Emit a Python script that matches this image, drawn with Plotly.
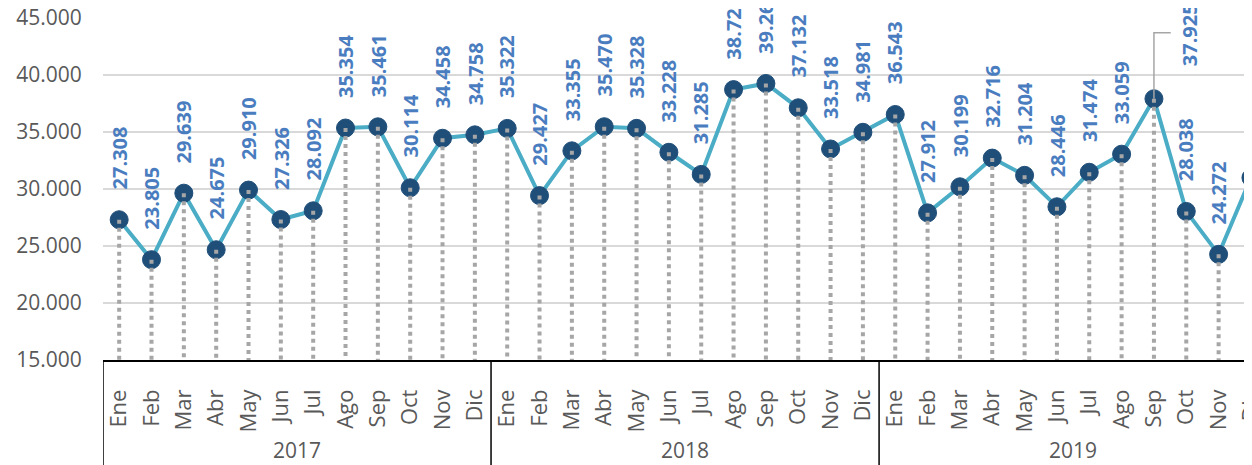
import plotly.graph_objects as go

# ---- data ----
years = ["2017", "2018", "2019"]
months = ["Ene", "Feb", "Mar", "Abr", "May", "Jun", "Jul", "Ago", "Sep", "Oct", "Nov", "Dic"]
values_2017 = [27308, 23805, 29639, 24675, 29910, 27326, 28092, 35354, 35461, 30114, 34458, 34758]
values_2018 = [35322, 29427, 33355, 35470, 35328, 33228, 31285, 38729, 39263, 37132, 33518, 34981]
values_2019 = [36543, 27912, 30199, 32716, 31204, 28446, 31474, 33059, 37925, 28038, 24272, 31000]
y_tick_values = [15000, 20000, 25000, 30000, 35000, 40000, 45000]

values = values_2017 + values_2018 + values_2019
month_labels = months * len(years)
xs = list(range(len(values)))
y_min, y_max = 15000, 45000

# ---- styling ----
FONT = "Open Sans"
LINE_COLOR = "#4BACC6"
MARKER_COLOR = "#1F4E79"
LABEL_COLOR = "#4A7DC0"
TICK_COLOR = "#595959"
DROP_COLOR = "#A6A6A6"

fig = go.Figure()

# main line
fig.add_trace(go.Scatter(x=xs, y=values, mode="lines",
                         line=dict(color=LINE_COLOR, width=4),
                         hoverinfo="skip", cliponaxis=False))
# markers
fig.add_trace(go.Scatter(x=xs, y=values, mode="markers",
                         marker=dict(color=MARKER_COLOR, size=18,
                                     line=dict(color=MARKER_COLOR, width=1)),
                         cliponaxis=False))
# drop lines
dx, dy = [], []
for x, v in zip(xs, values):
    dx += [x, x, None]
    dy += [v, y_min, None]
fig.add_trace(go.Scatter(x=dx, y=dy, mode="lines",
                         line=dict(color=DROP_COLOR, width=4, dash="dot"),
                         hoverinfo="skip", cliponaxis=False))

annotations = []
shapes = []
moved_index = 32  # label moved aside with leader line
for x, v in zip(xs, values):
    txt = f"{v:,}".replace(",", ".")
    if x == moved_index:
        corner = v + 5800
        shapes.append(dict(type="path", xref="x", yref="y",
                           path=f"M {x},{v} L {x},{corner} L {x + 0.52},{corner}",
                           line=dict(color="#A6A6A6", width=1.5)))
        annotations.append(dict(x=x + 1.1, y=v + 2680, xref="x", yref="y",
                                text=f"<b>{txt}</b>", textangle=-90, showarrow=False,
                                xanchor="center", yanchor="bottom",
                                font=dict(family=FONT, size=20, color=LABEL_COLOR)))
    else:
        annotations.append(dict(x=x, y=v, xref="x", yref="y",
                                text=f"<b>{txt}</b>", textangle=-90, showarrow=False,
                                xanchor="center", yanchor="bottom", yshift=28,
                                font=dict(family=FONT, size=20, color=LABEL_COLOR)))

# year group labels and separators
n = len(months)
for k, yr in enumerate(years):
    annotations.append(dict(x=k * n + (n - 1) / 2, y=-0.263, xref="x", yref="paper",
                            text=yr, showarrow=False, xanchor="center", yanchor="middle",
                            font=dict(family=FONT, size=21, color=TICK_COLOR)))
for k in range(len(years)):
    shapes.append(dict(type="line", xref="x", yref="paper",
                       x0=k * n - 0.5, x1=k * n - 0.5, y0=0, y1=-0.4,
                       line=dict(color="black", width=1.5)))

fig.update_layout(
    width=1252, height=465,
    margin=dict(l=95, r=0, t=10, b=113),
    paper_bgcolor="white", plot_bgcolor="white",
    showlegend=False,
    separators=",.",
    annotations=annotations,
    shapes=shapes,
    xaxis=dict(
        range=[-0.5, 35.28],
        automargin=False,
        tickmode="array", tickvals=xs, ticktext=month_labels,
        tickangle=-90,
        ticklabeloverflow="allow",
        tickfont=dict(family=FONT, size=22, color=TICK_COLOR),
        ticks="outside", ticklen=19, tickcolor="rgba(0,0,0,0)",
        showgrid=False, zeroline=False,
        showline=True, linecolor="black", linewidth=1.5,
    ),
    yaxis=dict(
        range=[y_min, y_max + 10],
        automargin=False,
        tickmode="array", tickvals=y_tick_values,
        tickformat=",.0f",
        ticklabeloverflow="allow",
        tickfont=dict(family=FONT, size=21, color=TICK_COLOR),
        ticks="outside", ticklen=16, tickcolor="rgba(0,0,0,0)",
        showgrid=True, gridcolor="#D9D9D9", gridwidth=1.5,
        zeroline=False, showline=False,
    ),
)

fig.write_html("out.html")
